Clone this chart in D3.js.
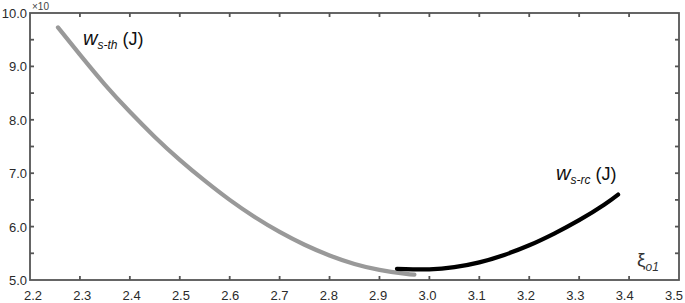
<!DOCTYPE html>
<html>
<head>
<meta charset="utf-8">
<script src="https://cdn.jsdelivr.net/npm/d3@7"></script>
<style>
  body { margin: 0; background: #fff; }
  svg { display: block; font-family: "Liberation Sans", Arial, sans-serif; }
  .tick-label { font-size: 13px; fill: #2a2a2a; }
  .curve-label { fill: #111; }
</style>
</head>
<body>
<div id="chart"></div>
<script>
// w_s-th curve (grey)
const thX = [2.256, 2.30, 2.35, 2.40, 2.45, 2.50, 2.55, 2.60, 2.65, 2.70, 2.75, 2.80, 2.85, 2.90, 2.95, 2.97];
const thY = [9.73, 9.22, 8.66, 8.15, 7.68, 7.25, 6.86, 6.50, 6.18, 5.90, 5.66, 5.46, 5.30, 5.19, 5.12, 5.10];

// w_s-rc curve (black)
const rcX = [2.935, 3.00, 3.05, 3.10, 3.15, 3.20, 3.25, 3.30, 3.35, 3.378];
const rcY = [5.21, 5.20, 5.24, 5.33, 5.47, 5.65, 5.87, 6.12, 6.41, 6.60];

const xTicks = [2.2, 2.3, 2.4, 2.5, 2.6, 2.7, 2.8, 2.9, 3.0, 3.1, 3.2, 3.3, 3.4, 3.5];
const yMajor = [5, 6, 7, 8, 9, 10];
const yMinor = [5.5, 6.5, 7.5, 8.5, 9.5];

const width = 685, height = 303;
const margin = { top: 13, right: 6, bottom: 23, left: 30 };

const svg = d3.select("#chart").append("svg").attr("width", width).attr("height", height);

const x = d3.scaleLinear().domain([2.2, 3.5]).range([margin.left, width - margin.right]);
const y = d3.scaleLinear().domain([5, 10]).range([height - margin.bottom, margin.top]);

const axisColor = "#555";
const tickLen = 4;

// frame
svg.append("rect")
  .attr("x", x(2.2)).attr("y", y(10))
  .attr("width", x(3.5) - x(2.2)).attr("height", y(5) - y(10))
  .attr("fill", "none").attr("stroke", axisColor).attr("stroke-width", 1.8);

// inward ticks on all four sides
const ticks = svg.append("g").attr("stroke", axisColor).attr("stroke-width", 1.8);
xTicks.slice(1, -1).forEach((t) => {
  ticks.append("line").attr("x1", x(t)).attr("x2", x(t)).attr("y1", y(5)).attr("y2", y(5) - tickLen);
  ticks.append("line").attr("x1", x(t)).attr("x2", x(t)).attr("y1", y(10)).attr("y2", y(10) + tickLen);
});
[...yMajor.slice(1, -1), ...yMinor].forEach((t) => {
  ticks.append("line").attr("x1", x(2.2)).attr("x2", x(2.2) + tickLen).attr("y1", y(t)).attr("y2", y(t));
  ticks.append("line").attr("x1", x(3.5)).attr("x2", x(3.5) - tickLen).attr("y1", y(t)).attr("y2", y(t));
});

// tick labels (the original drifts slightly left toward the right end)
const labelShift = d3.scaleLinear().domain([2.2, 3.5]).range([3, -5]);
svg.append("g").selectAll("text").data(xTicks).enter().append("text")
  .attr("class", "tick-label")
  .attr("x", (d) => x(d) + labelShift(d)).attr("y", 300)
  .attr("text-anchor", "middle")
  .text((d) => d.toFixed(1));

svg.append("g").selectAll("text").data(yMajor).enter().append("text")
  .attr("class", "tick-label")
  .attr("x", x(2.2) - 3).attr("y", (d) => y(d) + 5)
  .attr("text-anchor", "end")
  .text((d) => d.toFixed(1));

svg.append("text")
  .attr("x", 32).attr("y", 10)
  .attr("font-size", 10).attr("fill", "#444")
  .text("×10");

// curves
const line = d3.line()
  .x((d) => x(d[0]))
  .y((d) => y(d[1]))
  .curve(d3.curveNatural);

svg.append("path")
  .datum(thX.map((v, i) => [v, thY[i]]))
  .attr("d", line)
  .attr("fill", "none").attr("stroke", "#999").attr("stroke-width", 4.2)
  .attr("stroke-linecap", "round");

svg.append("path")
  .datum(rcX.map((v, i) => [v, rcY[i]]))
  .attr("d", line)
  .attr("fill", "none").attr("stroke", "#000").attr("stroke-width", 4.2)
  .attr("stroke-linecap", "round");

// curve labels
const lblTh = svg.append("text").attr("class", "curve-label").attr("x", 83).attr("y", 45);
lblTh.append("tspan").attr("font-style", "italic").attr("font-size", 20).text("w");
lblTh.append("tspan").attr("font-style", "italic").attr("font-size", 12).attr("dy", 4).text("s-th");
lblTh.append("tspan").attr("font-size", 18).attr("dy", -4).text(" (J)");

const lblRc = svg.append("text").attr("class", "curve-label").attr("x", 556).attr("y", 180);
lblRc.append("tspan").attr("font-style", "italic").attr("font-size", 20).text("w");
lblRc.append("tspan").attr("font-style", "italic").attr("font-size", 12).attr("dy", 4).text("s-rc");
lblRc.append("tspan").attr("font-size", 18).attr("dy", -4).text(" (J)");

const lblXi = svg.append("text").attr("fill", "#333").attr("x", 637).attr("y", 266);
lblXi.append("tspan").attr("font-size", 19).text("ξ");
lblXi.append("tspan").attr("font-style", "italic").attr("font-size", 12).attr("dy", 5).text("o1");
</script>
</body>
</html>
